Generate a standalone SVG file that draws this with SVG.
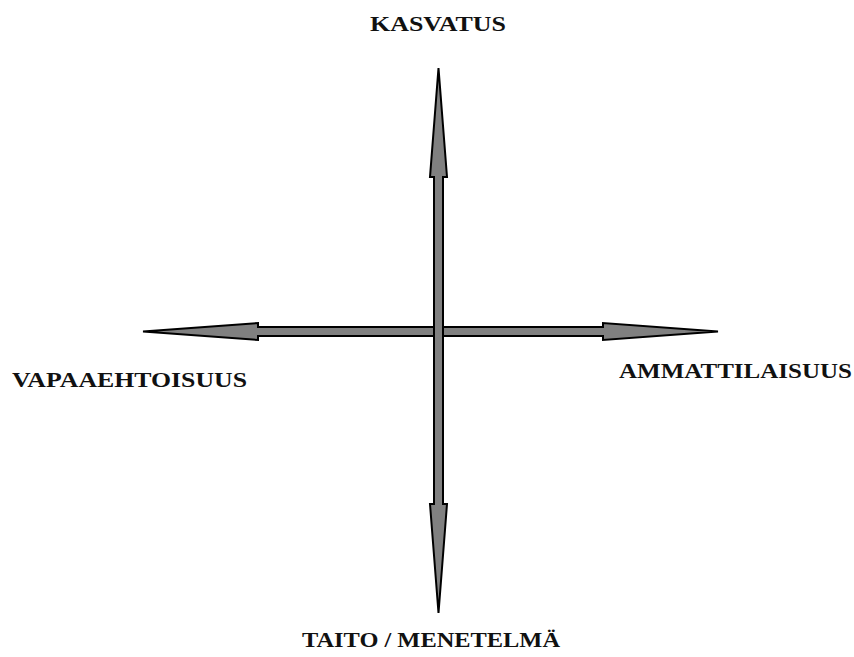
<svg xmlns="http://www.w3.org/2000/svg" width="854" height="657" viewBox="0 0 854 657">
<style>
.arr{fill:#808080;stroke:#000;stroke-width:2;stroke-linejoin:miter}
.lbl{font-family:"Liberation Serif","Times New Roman",serif;font-weight:bold;font-size:21px;fill:#111}
</style>
<rect width="854" height="657" fill="#fff"/>
<g id="connectors">
<path id="horizontal" class="arr" d="M143,331.5 L258,323 L258,327 L603,327 L603,323 L718,331.5 L603,340 L603,336 L258,336 L258,340 Z"/>
<path id="vertical" class="arr" d="M438.5,68 L447,177 L443,177 L443,504 L447,504 L438.5,613 L430,504 L434,504 L434,177 L430,177 Z"/>
</g>
<g id="kasvatus"><text class="lbl" x="370" y="31" textLength="136" lengthAdjust="spacingAndGlyphs">KASVATUS</text></g>
<g id="vapaaehtoisuus"><text class="lbl" x="12" y="387" textLength="235" lengthAdjust="spacingAndGlyphs">VAPAAEHTOISUUS</text></g>
<g id="ammattilaisuus"><text class="lbl" x="619" y="378" textLength="233" lengthAdjust="spacingAndGlyphs">AMMATTILAISUUS</text></g>
<g id="taito"><text class="lbl" x="302" y="647" textLength="258" lengthAdjust="spacingAndGlyphs">TAITO / MENETELMÄ</text></g>
</svg>
